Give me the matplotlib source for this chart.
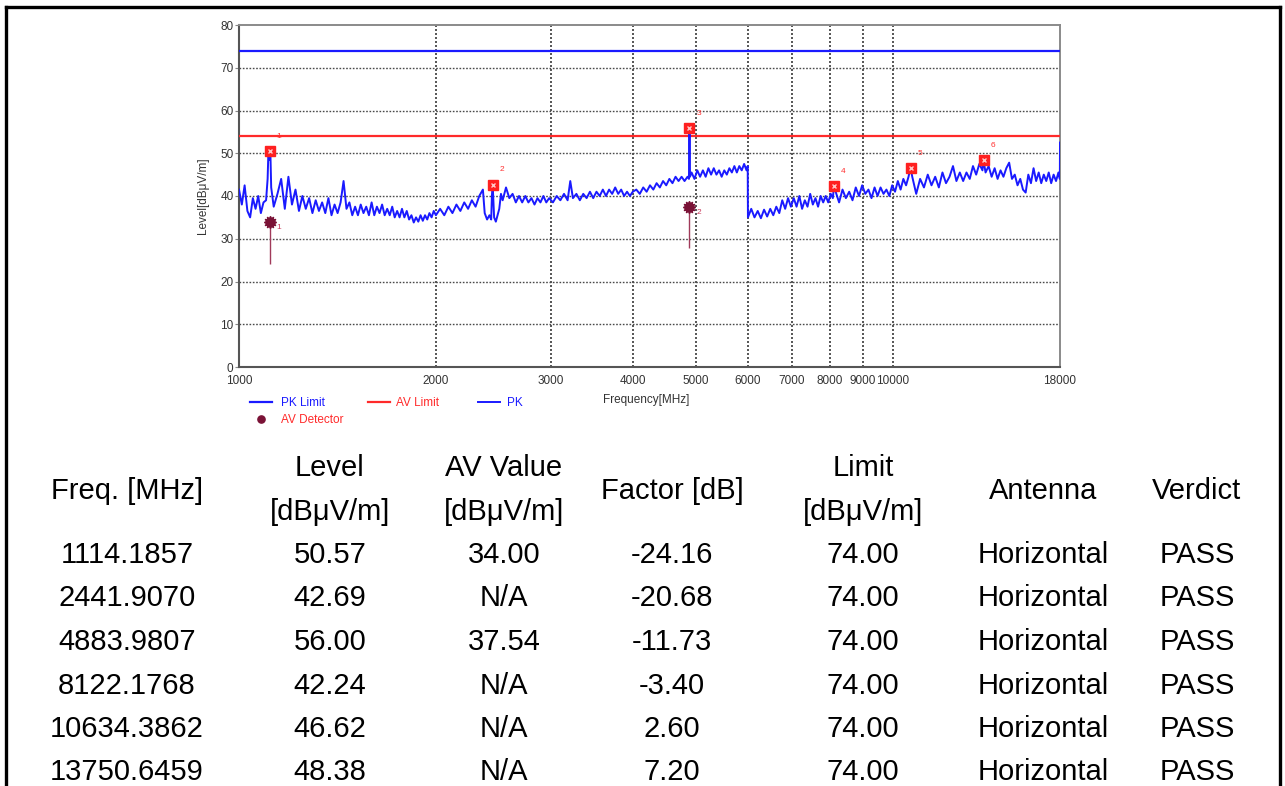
import numpy as np
import matplotlib
matplotlib.use('Agg')
import matplotlib.pyplot as plt
from matplotlib.lines import Line2D
from matplotlib.ticker import FixedLocator, NullLocator, FixedFormatter

plt.rcParams['font.family'] = ['Liberation Sans', 'DejaVu Sans']

# ------------------------------------------------------------------ data
pk_limit_level = 74.0
av_limit_level = 54.0

# PK sweep trace, (frequency MHz, level dBuV/m)
trace_1000_1130 = [
    (1000, 41.5), (1010, 38.0), (1020, 42.5), (1030, 36.5), (1040, 35.0), (1050, 39.5),
    (1060, 37.0), (1070, 40.0), (1080, 36.0), (1090, 38.5), (1100, 39.0),
    (1106, 44.0), (1109, 50.2), (1112, 48.5), (1114.19, 50.57), (1117, 49.8), (1120, 42.0),
]
trace_1130_2000 = [
    (1130, 37.5), (1145, 40.5), (1160, 44.0), (1175, 37.0), (1190, 44.5), (1205, 38.0),
    (1220, 41.5), (1235, 36.5), (1250, 40.0), (1265, 37.0), (1280, 39.5), (1295, 36.0),
    (1310, 39.0), (1325, 36.5), (1340, 38.5), (1355, 36.0), (1370, 39.5), (1385, 35.5),
    (1400, 38.0), (1415, 36.0), (1430, 38.5), (1445, 43.5), (1460, 37.0), (1475, 38.5),
    (1490, 35.5), (1505, 37.5), (1520, 35.5), (1535, 38.0), (1550, 36.0), (1565, 37.5),
    (1580, 35.5), (1595, 38.5), (1610, 35.5), (1625, 37.5), (1640, 36.0), (1655, 38.0),
    (1670, 35.5), (1685, 37.0), (1700, 35.5), (1715, 37.5), (1730, 35.0), (1745, 36.5),
    (1760, 35.0), (1775, 37.0), (1790, 35.0), (1805, 36.5), (1820, 34.5), (1835, 35.5),
    (1850, 33.8), (1865, 35.0), (1880, 34.0), (1895, 35.5), (1910, 34.2), (1925, 35.5),
    (1940, 34.5), (1955, 36.0), (1970, 35.0), (1985, 36.5), (2000, 35.5),
]
trace_2000_2530 = [
    (2030, 37.0), (2060, 35.5), (2090, 37.5), (2120, 36.0), (2150, 38.0), (2180, 36.5),
    (2210, 38.5), (2240, 37.0), (2270, 39.0), (2300, 37.5), (2330, 40.0), (2360, 41.5),
    (2375, 36.0), (2395, 34.5), (2415, 35.5), (2430, 34.5), (2436, 40.0), (2441.91, 42.69),
    (2447, 40.0), (2455, 35.0), (2470, 34.0), (2485, 35.5), (2500, 37.0), (2515, 40.5),
]
trace_2530_4000 = [
    (2530, 39.0), (2560, 42.0), (2590, 39.5), (2620, 40.5), (2650, 38.5), (2680, 40.0),
    (2710, 38.5), (2740, 40.0), (2770, 38.5), (2800, 39.5), (2830, 38.0), (2860, 39.5),
    (2890, 38.5), (2920, 40.0), (2950, 38.5), (2980, 39.5),
    (3020, 38.5), (3060, 40.0), (3100, 39.0), (3140, 40.5), (3180, 39.0), (3210, 43.5),
    (3240, 39.5), (3280, 40.5), (3320, 39.0), (3360, 40.5), (3400, 39.5), (3440, 41.0),
    (3480, 39.5), (3520, 41.0), (3560, 40.0), (3600, 41.5), (3640, 40.0), (3680, 41.5),
    (3720, 40.5), (3760, 42.0), (3800, 40.5), (3840, 41.5), (3880, 40.0), (3920, 41.0),
    (3960, 40.0), (4000, 41.0),
]
trace_4000_6000 = [
    (4050, 41.5), (4100, 40.5), (4150, 42.0), (4200, 41.0), (4250, 42.5), (4300, 41.5),
    (4350, 43.0), (4400, 42.0), (4450, 43.5), (4500, 42.5), (4550, 44.0), (4600, 43.0),
    (4650, 44.5), (4700, 43.5), (4750, 44.5), (4800, 43.5), (4850, 44.5),
    (4875, 44.0), (4880, 55.0), (4883.98, 56.0), (4888, 55.0), (4893, 44.5),
    (4920, 45.5), (4970, 44.0), (5020, 46.0), (5070, 44.5), (5120, 46.0), (5170, 44.5),
    (5220, 46.5), (5270, 45.0), (5320, 46.5), (5370, 45.0), (5420, 46.0), (5470, 44.5),
    (5520, 46.0), (5570, 45.0), (5620, 46.5), (5670, 45.5), (5720, 47.0), (5770, 45.5),
    (5820, 47.0), (5870, 46.0), (5920, 47.5), (5970, 46.0), (5995, 47.0), (6000, 35.0),
]
trace_6000_10600 = [
    (6070, 37.0), (6140, 35.0), (6210, 36.5), (6280, 34.8), (6350, 36.8), (6420, 35.2),
    (6490, 37.0), (6560, 35.5), (6630, 37.5), (6700, 36.0), (6770, 39.0), (6840, 37.0),
    (6910, 39.5), (6980, 37.5), (7050, 39.5), (7120, 37.5), (7190, 40.0), (7260, 37.0),
    (7330, 39.0), (7400, 37.5), (7470, 40.5), (7540, 38.0), (7610, 39.5), (7680, 37.5),
    (7750, 40.0), (7820, 38.5), (7890, 40.0), (7960, 38.5), (8030, 40.5), (8090, 39.5),
    (8122.18, 42.24),
    (8170, 41.0), (8270, 38.5), (8370, 41.5), (8470, 39.5), (8570, 41.0), (8670, 39.0),
    (8770, 42.0), (8870, 40.0), (8970, 42.5), (9070, 40.5), (9170, 41.5), (9270, 39.5),
    (9370, 42.0), (9470, 40.0), (9570, 42.0), (9670, 40.5), (9770, 41.5), (9870, 40.0),
    (9970, 42.5), (10070, 41.0), (10170, 43.5), (10270, 41.5), (10370, 44.0), (10470, 42.5),
    (10560, 44.5), (10634.39, 46.62),
]
trace_10600_18000 = [
    (10700, 44.5), (10850, 40.5), (11000, 44.0), (11150, 42.0), (11300, 45.0), (11450, 42.5),
    (11600, 44.5), (11750, 42.0), (11900, 45.5), (12050, 43.0), (12200, 44.5), (12350, 47.0),
    (12500, 43.5), (12650, 45.5), (12800, 43.5), (12950, 45.5), (13100, 44.0), (13250, 47.0),
    (13400, 45.0), (13550, 47.5), (13700, 46.0), (13750.65, 48.38),
    (13850, 45.5), (14000, 47.0), (14150, 44.5), (14300, 46.5), (14450, 44.0), (14600, 46.0),
    (14750, 44.5), (14900, 46.5), (15050, 47.8), (15200, 44.0), (15350, 45.0), (15500, 42.5),
    (15650, 44.0), (15800, 41.5), (15950, 40.8), (16100, 45.0), (16250, 43.0), (16400, 46.5),
    (16550, 43.5), (16700, 45.5), (16850, 43.0), (17000, 45.0), (17150, 43.5), (17300, 45.5),
    (17450, 43.0), (17600, 45.0), (17750, 43.5), (17900, 45.5), (17990, 44.0), (18000, 52.5),
]

# Marker table
freq_mhz = [1114.1857, 2441.9070, 4883.9807, 8122.1768, 10634.3862, 13750.6459]
level_dbuv = [50.57, 42.69, 56.00, 42.24, 46.62, 48.38]
av_value = [34.00, None, 37.54, None, None, None]
factor_db = [-24.16, -20.68, -11.73, -3.40, 2.60, 7.20]
limit_dbuv = [74.00, 74.00, 74.00, 74.00, 74.00, 74.00]
antenna = ['Horizontal'] * 6
verdict = ['PASS'] * 6

# AV detector points and the low end of their stems
av_freq = [1114.1857, 4883.9807]
av_level = [34.00, 37.54]
av_stem_low = [24.0, 27.8]

y_ticks = [0, 10, 20, 30, 40, 50, 60, 70, 80]
x_ticks = [1000, 2000, 3000, 4000, 5000, 6000, 7000, 8000, 9000, 10000, 18000]
x_tick_labels = ['1000', '2000', '3000', '4000', '5000', '6000', '7000', '8000', '9000', '10000', '18000']

header_top = ['', 'Level', 'AV Value', '', 'Limit', '', '']
header_mid = ['Freq. [MHz]', '', '', 'Factor [dB]', '', 'Antenna', 'Verdict']
header_bot = ['', '[dBμV/m]', '[dBμV/m]', '', '[dBμV/m]', '', '']

# ------------------------------------------------------------------ figure
W, H = 1285, 786
fig = plt.figure(figsize=(W / 100, H / 100), dpi=100)
fig.patch.set_facecolor('white')

def fx(px):
    return px / W

def fy(py):
    return 1 - py / H

ax = fig.add_axes([fx(239), fy(367), (1060 - 239) / W, (367 - 25) / H])

BLUE = '#1a1aff'
RED = '#ff2a2a'
MAROON = '#7a1236'

trace = (trace_1000_1130 + trace_1130_2000 + trace_2000_2530 + trace_2530_4000
         + trace_4000_6000 + trace_6000_10600 + trace_10600_18000)
tf = np.array([p[0] for p in trace])
tl = np.array([p[1] for p in trace])

ax.set_xscale('log')
ax.set_xlim(1000, 18000)
ax.set_ylim(0, 80)

# grid
for xv in x_ticks[1:-1]:
    ax.axvline(xv, color='#3a3a3a', lw=1.2, ls=(0, (1.2, 1.2)), zorder=1)
for yv in y_ticks[1:-1]:
    ax.axhline(yv, color='#4a4a4a', lw=1.0, ls=(0, (1.2, 1.2)), zorder=1)

l_pklim = ax.axhline(pk_limit_level, color=BLUE, lw=1.6, zorder=3, label='PK Limit')
l_avlim = ax.axhline(av_limit_level, color=RED, lw=1.6, zorder=3, label='AV Limit')
l_pk, = ax.plot(tf, tl, color=BLUE, lw=1.4, zorder=4, label='PK')

# AV stems and detector markers
ax.vlines(av_freq, av_stem_low, av_level, color='#a03a5a', lw=1.0, zorder=4)
av_pts, = ax.plot(av_freq, av_level, ls='none', marker='o', ms=6.5, color=MAROON,
                  mec=MAROON, zorder=6, label='AV Detector')
ax.plot(av_freq, av_level, ls='none', marker=(12, 1, 0), ms=9, color=MAROON, zorder=6)

# PK markers
ax.plot(freq_mhz, level_dbuv, ls='none', marker='s', ms=6.5, color='#ff2020', zorder=7)
ax.plot(freq_mhz, level_dbuv, ls='none', marker='x', ms=3.5, mew=1.0, color='#ffc8c8', zorder=8)
for i, (f, l) in enumerate(zip(freq_mhz, level_dbuv)):
    ax.annotate(str(i + 1), (f, l), xytext=(6.5, 10.5), textcoords='offset points',
                fontsize=6, color='#ff3030', ha='center', va='center', zorder=9)
for i, (f, l) in enumerate(zip(av_freq, av_level)):
    ax.annotate(str(i + 1), (f, l), xytext=(6.5, -4.5), textcoords='offset points',
                fontsize=6, color='#c8385a', ha='center', va='center', zorder=9)

# axes styling
ax.xaxis.set_major_locator(FixedLocator(x_ticks))
ax.xaxis.set_major_formatter(FixedFormatter(x_tick_labels))
ax.xaxis.set_minor_locator(NullLocator())
ax.yaxis.set_major_locator(FixedLocator(y_ticks))
ax.tick_params(axis='x', length=0, pad=6, labelsize=8.5, labelcolor='#333333')
ax.tick_params(axis='y', length=3, width=0.8, color='#888888', pad=1,
               labelsize=8.5, labelcolor='#333333')
for side in ['top', 'right']:
    ax.spines[side].set_color('#8a8a8a')
    ax.spines[side].set_linewidth(1.4)
for side in ['left', 'bottom']:
    ax.spines[side].set_color('#555555')
    ax.spines[side].set_linewidth(1.5)

fig.text(fx(203), fy(196), 'Level[dBμV/m]', rotation=90, ha='center', va='center',
         fontsize=8.5, color='#333333')
fig.text(fx(603), fy(400), 'Frequency[MHz]', ha='left', va='center',
         fontsize=8.5, color='#333333')

# legends
legA = fig.legend([l_pklim, av_pts], ['PK Limit', 'AV Detector'], loc='upper left',
                  bbox_to_anchor=(fx(250), fy(397)), bbox_transform=fig.transFigure,
                  frameon=False, fontsize=8.5, borderpad=0, borderaxespad=0,
                  handlelength=1.85, handletextpad=0.75, labelspacing=0.45,
                  markerscale=0.8)
for t, c in zip(legA.get_texts(), [BLUE, RED]):
    t.set_color(c)
legB = fig.legend([l_avlim, l_pk], ['AV Limit', 'PK'], loc='upper left', ncol=2,
                  bbox_to_anchor=(fx(368), fy(397)), bbox_transform=fig.transFigure,
                  frameon=False, fontsize=8.5, borderpad=0, borderaxespad=0,
                  handlelength=1.85, handletextpad=0.55, columnspacing=3.3)
for t, c in zip(legB.get_texts(), [RED, BLUE]):
    t.set_color(c)

# outer frame (left, top, right)
frame_kw = dict(color='black', lw=2.4, transform=fig.transFigure)
fig.add_artist(Line2D([fx(6), fx(6)], [fy(7), 0], **frame_kw))
fig.add_artist(Line2D([fx(6), fx(1280)], [fy(7), fy(7)], **frame_kw))
fig.add_artist(Line2D([fx(1280), fx(1280)], [fy(7), 0], **frame_kw))

# table
col_x = [127, 330, 504, 672, 863, 1043, 1197]
row_y = [552.5, 596, 639.5, 683, 726.5, 770]
TFS = 21
def ctext(x, ycenter, s):
    fig.text(fx(x), fy(ycenter + 10.5), s, ha='center', va='baseline', fontsize=TFS, color='black')

for j, x in enumerate(col_x):
    if header_top[j]:
        ctext(x, 466, header_top[j])
    if header_mid[j]:
        ctext(x, 488, header_mid[j])
    if header_bot[j]:
        ctext(x, 510, header_bot[j])

for i, y in enumerate(row_y):
    cells = [f'{freq_mhz[i]:.4f}', f'{level_dbuv[i]:.2f}',
             'N/A' if av_value[i] is None else f'{av_value[i]:.2f}',
             f'{factor_db[i]:.2f}', f'{limit_dbuv[i]:.2f}', antenna[i], verdict[i]]
    for x, s in zip(col_x, cells):
        ctext(x, y, s)

fig.savefig('out.png', dpi=100, facecolor='white')
